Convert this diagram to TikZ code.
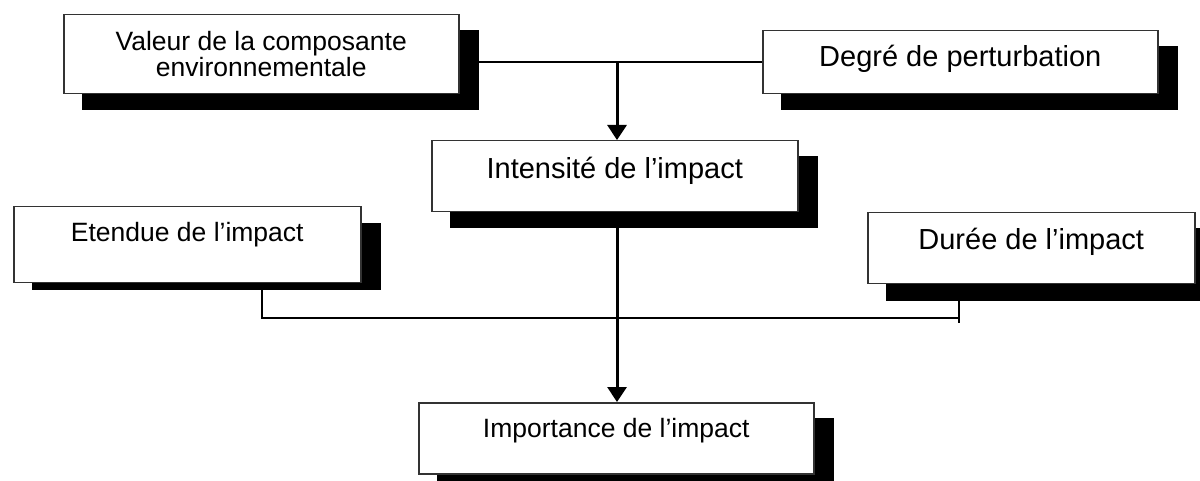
\documentclass[tikz,border=0pt]{standalone}
\usepackage{fontspec}
\setmainfont{Liberation Sans}
\usetikzlibrary{arrows.meta, calc, backgrounds}

\begin{document}
\begin{tikzpicture}[x=1pt, y=-1pt, >={Triangle[width=19pt,length=15pt]},
		wbox/.style={draw=black!80, line width=1.5pt, fill=white, inner sep=0pt, anchor=north west, align=center},
		bigtxt/.style={font=\fontsize{29}{33}\selectfont},
		smalltxt/.style={font=\fontsize{26.5}{26}\selectfont},
		link/.style={line width=2pt},
		flow/.style={->, line width=3pt},
		boxshadow/.style={fill=black}]
		\useasboundingbox (0,0) rectangle (1200,481);
		
		% Boites
		\node[wbox, smalltxt, minimum width=395pt, minimum height=79pt] (val) at (63,14) {Valeur de la composante\\environnementale};
		\node[wbox, bigtxt, minimum width=395pt, text height=36pt, text depth=27pt] (deg) at (762,30) {Degré de perturbation};
		\node[wbox, bigtxt, minimum width=366pt, text height=38pt, text depth=33pt] (int) at (431,140) {Intensité de l’impact};
		\node[wbox, smalltxt, minimum width=347pt, text height=35pt, text depth=41pt] (ete) at (13,206) {Etendue de l’impact};
		\node[wbox, bigtxt, minimum width=327pt, text height=37pt, text depth=34pt] (dur) at (867,212) {Durée de l’impact};
		\node[wbox, smalltxt, minimum width=395pt, text height=35pt, text depth=36pt] (imp) at (418,402) {Importance de l’impact};
		
		% Jonctions
		\coordinate (j1) at (617,62);
		\coordinate (j2) at (262,318);
		\coordinate (j3) at (959,318);
		
		% Liaisons et ombres
		\begin{scope}[on background layer]
			\draw[link] (deg.west) -- (val.east |- deg.west);
			\draw[link] (ete.south -| j2) -- (j2) -- (j3);
			\draw[link] (dur.south -| j3) -- ($(j3)+(0,5)$);
			\fill[boxshadow] ($(val.north west)+(19,16)$) rectangle ($(val.south east)+(19,16)$);
			\fill[boxshadow] ($(deg.north west)+(19,16)$) rectangle ($(deg.south east)+(19,16)$);
			\fill[boxshadow] ($(int.north west)+(19,16)$) rectangle ($(int.south east)+(19,16)$);
			\fill[boxshadow] ($(ete.north west)+(19,17)$) rectangle ($(ete.south east)+(19,7)$);
			\fill[boxshadow] ($(dur.north west)+(19,16)$) rectangle ($(dur.south east)+(19,16)$);
			\fill[boxshadow] ($(imp.north west)+(19,16)$) rectangle ($(imp.south east)+(19,16)$);
		\end{scope}
		
		% Fleches
		\draw[flow] (j1) -- (j1 |- int.north);
		\draw[flow] (j1 |- int.south) -- (j1 |- imp.north);
	\end{tikzpicture}
\end{document}
